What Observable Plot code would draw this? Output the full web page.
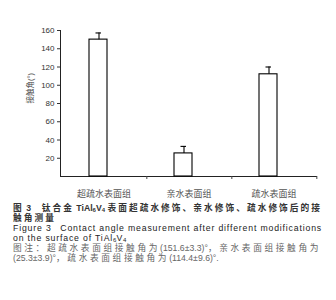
<!DOCTYPE html>
<html><head><meta charset="utf-8">
<script src="https://cdn.jsdelivr.net/npm/d3@7"></script>
<script src="https://cdn.jsdelivr.net/npm/@observablehq/plot@0.6"></script>
<style>
html,body{margin:0;padding:0;background:#fff}
body{width:336px;height:300px;overflow:hidden;position:relative;font-family:"Liberation Sans","Noto Sans CJK SC",sans-serif}
#chart{position:absolute;left:0;top:0}
#cap{position:absolute;left:13px;top:203px;width:320px;font-size:8.7px;color:#222;font-family:"Liberation Sans","Noto Sans CJK SC",sans-serif}
#cap > div{white-space:nowrap;height:10px;line-height:10px;overflow:visible}
#cap .zh{font-weight:bold;color:#333}
#cap .en{color:#222}
#cap .note{color:#666}
sub{font-size:6px;line-height:0;vertical-align:-1px;letter-spacing:0}
</style></head><body>
<div id="chart"></div>
<div id="cap"></div>
<script>
const categories = ["超疏水表面组", "亲水表面组", "疏水表面组"];
const means = [150, 25.3, 112];
const errors = [7.3, 7.7, 8];
const yTicks = [20, 40, 60, 80, 100, 120, 140, 160];
const yLabel = "接触角(°)";

const data = categories.map((c, i) => ({cat: c, mean: means[i], err: errors[i]}));
const W = 336, ML = 60, MR = 19;
const step = (W - ML - MR) / categories.length;

const chart = Plot.plot({
  width: W, height: 200,
  marginLeft: ML, marginRight: MR, marginTop: 30, marginBottom: 24,
  style: {fontFamily: "'Liberation Sans','Noto Sans CJK SC',sans-serif", color: "#333", background: "white"},
  x: {domain: categories, padding: 0},
  y: {domain: [0, 160]},
  marks: [
    Plot.axisY({ticks: yTicks, tickSize: 3, tickPadding: 3, fontSize: 8, label: null}),
    Plot.frame({anchor: "left", stroke: "#222"}),
    Plot.ruleY([0], {stroke: "#222"}),
    Plot.axisX({tickSize: 0, tickPadding: 14, fontSize: 9, label: null, fill: "#555"}),
    Plot.axisX({tickSize: 3, tickFormat: () => "", label: null, dx: step / 2, stroke: "#444"}),
    Plot.barY(data, {x: "cat", y: "mean", fill: "white", stroke: "black", strokeWidth: 1.1, insetLeft: 33, insetRight: 34, dx: -5}),
    Plot.ruleX(data, {x: "cat", y1: "mean", y2: d => d.mean + d.err, stroke: "black", strokeWidth: 1.1, dx: -5}),
    Plot.tickY(data, {x: "cat", y: d => d.mean + d.err, stroke: "black", strokeWidth: 1.1, insetLeft: 39.5, insetRight: 40, dx: -5}),
    Plot.text([yLabel], {frameAnchor: "left", dx: -30, rotate: -90, fontSize: 7.5, fill: "#444"})
  ]
});
document.getElementById("chart").appendChild(chart);

// caption: [html, class, target width or null (continuation line)]
const captionLines = [
  ["图 3　钛合金 TiAl<sub>6</sub>V<sub>4</sub> 表面超疏水修饰、亲水修饰、疏水修饰后的接", "zh", 309],
  ["触角测量", "zh", null],
  ["Figure 3　Contact angle measurement after different modifications", "en", 309],
  ["on the surface of TiAl<sub>6</sub>V<sub>4</sub>", "en", null],
  ["图注：超疏水表面组接触角为(151.6±3.3)°，亲水表面组接触角为", "note", 308],
  ["(25.3±3.9)°，疏水表面组接触角为(114.4±9.6)°.", "note", null]
];
const cap = document.getElementById("cap");
const cjk = /[\u3000-\u9fff\uff00-\uffef、]/;
let lastSpacing = 0;
for (const [html, cls, target] of captionLines) {
  const div = document.createElement("div");
  div.className = cls;
  const parts = html.split(/(<sub>.*?<\/sub>)/);
  const spans = [];
  for (const p of parts) {
    if (p.startsWith("<sub>")) { const s = document.createElement("span"); s.innerHTML = p; s.dataset.k = "l"; spans.push(s); continue; }
    let run = "", isC = null;
    for (const ch of p) {
      const c = cjk.test(ch);
      if (isC !== null && c !== isC) { const s = document.createElement("span"); s.textContent = run; s.dataset.k = isC ? "c" : "l"; spans.push(s); run = ""; }
      run += ch; isC = c;
    }
    if (run) { const s = document.createElement("span"); s.textContent = run; s.dataset.k = isC ? "c" : "l"; spans.push(s); }
  }
  spans.forEach(s => div.appendChild(s));
  cap.appendChild(div);
  const kind = cls === "en" ? "l" : "c";
  const targets = spans.filter(s => s.dataset.k === kind);
  const n = targets.reduce((a, s) => a + [...s.textContent].length, 0);
  let spacing = lastSpacing;
  if (target) {
    const r = document.createRange(); r.selectNodeContents(div);
    const w = r.getBoundingClientRect().width;
    spacing = Math.max(0, (target - w) / n);
    lastSpacing = spacing;
  }
  targets.forEach(s => s.style.letterSpacing = spacing + "px");
}
</script>
</body></html>
